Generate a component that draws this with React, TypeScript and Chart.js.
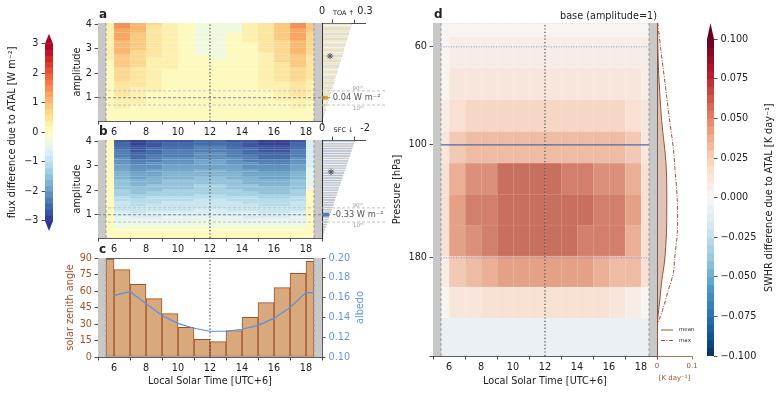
import React, { useEffect, useRef } from 'react';
import { Chart, registerables } from 'chart.js';

Chart.register(...registerables);

const FAMILY = '"DejaVu Sans", "Liberation Sans", Arial, sans-serif';
const FS = 9.7;
const INK = '#222222';
const SPINE = '#333333';
const SIENNA = '#a0522d';
const ALBEDO_LINE = '#5b8fdf';
const ALBEDO_TEXT = '#6495ed';
const GREY_BAND = '#c8c8c8';

Chart.defaults.font.family = FAMILY;
Chart.defaults.font.size = FS;
Chart.defaults.color = INK;

// ---------------- axes / grid data ----------------
const hourEdges = [5.5, 6, 7, 8, 9, 10, 11, 12, 13, 14, 15, 16, 17, 18, 18.5];
const hourTicks = [6, 8, 10, 12, 14, 16, 18];
const X_MIN = 5;
const X_MAX = 19;
const NOON = 12;

const amplitudes = [0.1, 0.2, 0.3, 0.4, 0.5, 0.6, 0.7, 0.8, 0.9, 1.0, 1.1, 1.2, 1.3, 1.4, 1.5, 1.6, 1.7, 1.8, 1.9, 2.0,
  2.1, 2.2, 2.3, 2.4, 2.5, 2.6, 2.7, 2.8, 2.9, 3.0, 3.1, 3.2, 3.3, 3.4, 3.5, 3.6, 3.7, 3.8, 3.9, 4.0];
const amplitudeTicks = [1, 2, 3, 4];
const AMP_MIN = 0.05;
const AMP_MAX = 4.05;
const baseAmplitude = 1.0;
const amplitudeP90 = 1.28;
const amplitudeP10 = 0.7;

// ---------------- panel a: TOA (upward) flux difference [W m-2], per time bin along amplitudes ----------------
const toa0530 = [.01, .02, .02, .03, .04, .05, .05, .06, .07, .08, .08, .09, .10, .11, .11, .12, .13, .14, .14, .15, .16, .17, .17, .18, .19, .20, .20, .21, .22, .23, .23, .24, .25, .26, .26, .27, .28, .29, .29, .30];
const toa0600 = [.04, .07, .11, .14, .18, .22, .25, .29, .32, .36, .40, .43, .47, .50, .54, .58, .61, .65, .68, .72, .76, .79, .83, .86, .90, .94, .97, 1.01, 1.04, 1.08, 1.12, 1.15, 1.19, 1.22, 1.26, 1.30, 1.33, 1.37, 1.40, 1.44];
const toa0700 = [.03, .05, .08, .11, .14, .16, .19, .22, .24, .27, .30, .32, .35, .38, .41, .43, .46, .49, .51, .54, .57, .59, .62, .65, .68, .70, .73, .76, .78, .81, .84, .86, .89, .92, .95, .97, 1.00, 1.03, 1.05, 1.08];
const toa0800 = [.02, .03, .05, .06, .08, .09, .11, .12, .14, .15, .17, .18, .20, .21, .23, .24, .26, .27, .29, .30, .32, .33, .35, .36, .38, .39, .41, .42, .44, .45, .47, .48, .50, .51, .53, .54, .56, .57, .59, .60];
const toa0900 = [.01, .02, .03, .04, .05, .05, .06, .07, .08, .09, .10, .11, .12, .13, .14, .14, .15, .16, .17, .18, .19, .20, .21, .22, .23, .23, .24, .25, .26, .27, .28, .29, .30, .31, .32, .32, .33, .34, .35, .36];
const toa1000 = [.00, .01, .01, .02, .02, .02, .03, .03, .04, .04, .04, .05, .05, .06, .06, .06, .07, .07, .08, .08, .08, .09, .09, .10, .10, .10, .11, .11, .12, .12, .12, .13, .13, .14, .14, .14, .15, .15, .16, .16];
const toa1100 = [.01, .01, .02, .02, .02, .02, .03, .03, .03, .03, .03, .03, .03, .03, .03, .03, .03, .03, .03, .03, .02, .02, .01, .01, .00, .00, .00, -.25, -.26, -.27, -.28, -.29, -.30, -.31, -.32, -.33, -.34, -.35, -.36, -.37];
const toa1200 = [.01, .01, .02, .02, .02, .02, .03, .03, .03, .03, .03, .03, .03, .03, .03, .03, .03, .03, .03, .03, .02, .02, .01, .01, .00, -.22, -.24, -.25, -.26, -.27, -.28, -.29, -.30, -.31, -.32, -.33, -.34, -.35, -.36, -.37];
const toa1300 = [.01, .01, .02, .02, .03, .03, .04, .04, .05, .05, .06, .06, .07, .07, .08, .08, .09, .09, .10, .10, .10, .10, .10, .10, .10, .08, .08, .07, .06, .05, .05, .04, .03, .02, .01, .01, -.21, -.22, -.23, -.24];
const toa1400 = [.01, .01, .02, .02, .03, .04, .04, .05, .05, .06, .07, .07, .08, .08, .09, .10, .10, .11, .11, .12, .13, .13, .14, .14, .15, .16, .16, .17, .17, .18, .19, .19, .20, .20, .21, .22, .22, .23, .23, .24];
const toa1500 = [.01, .03, .04, .06, .07, .08, .10, .11, .13, .14, .15, .17, .18, .20, .21, .22, .24, .25, .27, .28, .29, .31, .32, .34, .35, .36, .38, .39, .41, .42, .43, .45, .46, .48, .49, .50, .52, .53, .55, .56];
const toa1600 = [.02, .05, .07, .10, .12, .14, .17, .19, .22, .24, .26, .29, .31, .34, .36, .38, .41, .43, .46, .48, .50, .53, .55, .58, .60, .62, .65, .67, .70, .72, .74, .77, .79, .82, .84, .86, .89, .91, .94, .96];
const toa1700 = [.04, .07, .11, .14, .18, .22, .25, .29, .32, .36, .40, .43, .47, .50, .54, .58, .61, .65, .68, .72, .76, .79, .83, .86, .90, .94, .97, 1.01, 1.04, 1.08, 1.12, 1.15, 1.19, 1.22, 1.26, 1.30, 1.33, 1.37, 1.40, 1.44];
const toa1800 = [.02, .04, .07, .09, .11, .13, .15, .18, .20, .22, .24, .26, .29, .31, .33, .35, .37, .40, .42, .44, .46, .48, .51, .53, .55, .57, .59, .62, .64, .66, .68, .70, .73, .75, .77, .79, .81, .84, .86, .88];
const toaByBin = [toa0530, toa0600, toa0700, toa0800, toa0900, toa1000, toa1100, toa1200, toa1300, toa1400, toa1500, toa1600, toa1700, toa1800];

// ---------------- panel b: SFC (downward) flux difference [W m-2] ----------------
const sfcEdgeMorning = [.06, .06, .06, .06, .06, .06, .06, .06, .06, .06, .06, .06, .06, .06, .06, .06, .06, .06, .06, .06, .06, .06, .06, .06, .06, .06, .06, .06, .06, .06, .06, .06, .06, .06, .06, .06, .06, .06, .06, .06];
const sfcStrong = [0.10, 0.05, 0.00, -0.10, -0.25, -0.35, -0.45, -0.55, -0.65, -0.75, -0.82, -0.90, -0.97, -1.04, -1.10, -1.18, -1.26, -1.34, -1.42, -1.50, -1.57, -1.64, -1.71, -1.78, -1.85, -1.92, -1.99, -2.06, -2.13, -2.20, -2.27, -2.34, -2.41, -2.48, -2.55, -2.62, -2.69, -2.76, -2.83, -2.90];
const sfcHigh = [0.10, 0.05, 0.00, -0.10, -0.24, -0.33, -0.43, -0.52, -0.62, -0.71, -0.78, -0.86, -0.92, -0.99, -1.05, -1.12, -1.20, -1.27, -1.35, -1.43, -1.49, -1.56, -1.62, -1.69, -1.76, -1.82, -1.89, -1.96, -2.02, -2.09, -2.16, -2.22, -2.29, -2.36, -2.42, -2.49, -2.56, -2.62, -2.69, -2.76];
const sfcMid = [0.10, 0.05, 0.00, -0.09, -0.23, -0.32, -0.41, -0.50, -0.59, -0.68, -0.74, -0.81, -0.87, -0.94, -0.99, -1.06, -1.13, -1.21, -1.28, -1.35, -1.41, -1.48, -1.54, -1.60, -1.67, -1.73, -1.79, -1.85, -1.92, -1.98, -2.04, -2.11, -2.17, -2.23, -2.30, -2.36, -2.42, -2.48, -2.55, -2.61];
const sfcNoon = [0.10, 0.05, 0.00, -0.09, -0.21, -0.30, -0.38, -0.47, -0.55, -0.64, -0.70, -0.77, -0.82, -0.88, -0.94, -1.00, -1.07, -1.14, -1.21, -1.28, -1.33, -1.39, -1.45, -1.51, -1.57, -1.63, -1.69, -1.75, -1.81, -1.87, -1.93, -1.99, -2.05, -2.11, -2.17, -2.23, -2.29, -2.35, -2.41, -2.47];
const sfcEdgeEvening = [.05, .05, .05, .05, .05, .05, .05, .05, .05, .05, .05, .05, .05, .05, .05, .05, .05, .05, .05, .05, -.5, -.5, -.5, -.5, -.5, -.5, -.5, -.5, -.5, -.7, -.7, -.7, -.7, -.7, -.7, -.7, -.7, -.7, -.7, -.7];
const sfcByBin = [sfcEdgeMorning, sfcMid, sfcStrong, sfcHigh, sfcMid, sfcMid, sfcNoon, sfcNoon, sfcMid, sfcHigh, sfcStrong, sfcStrong, sfcMid, sfcEdgeEvening];

// side bars (mean over time) [W m-2]
const toaSide = [0.005, 0.010, 0.016, 0.021, 0.026, 0.031, 0.036, 0.042, 0.047, 0.052, 0.057, 0.062, 0.068, 0.073, 0.078, 0.083, 0.088, 0.094, 0.099, 0.104,
  0.109, 0.114, 0.120, 0.125, 0.130, 0.135, 0.140, 0.146, 0.151, 0.156, 0.161, 0.166, 0.172, 0.177, 0.182, 0.187, 0.192, 0.198, 0.203, 0.208];
const sfcSide = [-0.04, -0.08, -0.11, -0.15, -0.19, -0.23, -0.27, -0.31, -0.34, -0.38, -0.42, -0.46, -0.50, -0.54, -0.57, -0.61, -0.65, -0.69, -0.73, -0.77,
  -0.80, -0.84, -0.88, -0.92, -0.96, -1.00, -1.03, -1.07, -1.11, -1.15, -1.19, -1.23, -1.26, -1.30, -1.34, -1.38, -1.42, -1.46, -1.49, -1.53];
const toaBase = 0.04;
const sfcBase = -0.33;
const toaStar = { amp: 2.7, value: 0.056 };
const sfcStar = { amp: 2.75, value: -0.42 };
const toaAxisTicks = [0, 0.15, 0.3];
const sfcAxisTicks = [0, -1, -2];

// ---------------- panel c ----------------
const szaByBin = [89, 79.5, 66, 53, 39.5, 27, 16, 14, 24, 36, 49.5, 63, 76, 87];
const szaTicks = [0, 15, 30, 45, 60, 75, 90];
const albedoHours = [6, 7, 8, 9, 10, 11, 12, 13, 14, 15, 16, 17, 18, 18.5];
const albedoValues = [0.162, 0.166, 0.154, 0.142, 0.134, 0.129, 0.126, 0.126, 0.128, 0.132, 0.139, 0.150, 0.165, 0.165];
const albedoTicks = [0.10, 0.12, 0.14, 0.16, 0.18, 0.20];

// ---------------- panel d: SWHR difference [K day-1] ----------------
const pressureEdges = [53, 56.9, 67, 79.1, 93.3, 110, 129.3, 151.8, 178.3, 209.6, 246.3, 300];
const pressureTicks = [60, 100, 180, 300];
const P_TOP = 53;
const P_BOTTOM = 300;
const swhrRows = [
  [0.001, 0.001, 0.001, 0.001, 0.001, 0.001, 0.001, 0.001, 0.001, 0.001, 0.001, 0.001, 0.001, 0.001],
  [0.003, 0.007, 0.007, 0.007, 0.007, 0.007, 0.007, 0.007, 0.007, 0.007, 0.007, 0.007, 0.007, 0.005],
  [0.004, 0.012, 0.012, 0.012, 0.012, 0.012, 0.012, 0.012, 0.012, 0.012, 0.012, 0.012, 0.012, 0.007],
  [0.007, 0.019, 0.020, 0.020, 0.020, 0.020, 0.020, 0.020, 0.020, 0.020, 0.020, 0.020, 0.019, 0.010],
  [0.012, 0.025, 0.030, 0.032, 0.032, 0.032, 0.032, 0.032, 0.032, 0.032, 0.030, 0.030, 0.025, 0.014],
  [0.015, 0.035, 0.045, 0.047, 0.055, 0.055, 0.055, 0.055, 0.052, 0.050, 0.047, 0.045, 0.037, 0.017],
  [0.018, 0.040, 0.050, 0.053, 0.058, 0.058, 0.058, 0.058, 0.058, 0.056, 0.052, 0.052, 0.042, 0.018],
  [0.017, 0.040, 0.047, 0.050, 0.057, 0.057, 0.057, 0.057, 0.057, 0.053, 0.050, 0.050, 0.039, 0.016],
  [0.008, 0.027, 0.033, 0.036, 0.040, 0.040, 0.043, 0.043, 0.043, 0.040, 0.036, 0.033, 0.030, 0.017],
  [0.002, 0.012, 0.012, 0.015, 0.015, 0.015, 0.015, 0.015, 0.015, 0.015, 0.015, 0.012, 0.009, 0.002],
  [-0.008, -0.007, -0.007, -0.007, -0.007, -0.007, -0.007, -0.007, -0.007, -0.007, -0.007, -0.007, -0.007, -0.007],
];
const levelLines = { upper: 60, tropopause: 100, lower: 180 };

// profiles (time mean and max) [K day-1] vs pressure [hPa]
const meanPressure = [53, 66.5, 79, 91, 102, 115, 133, 158, 182, 202, 224, 248, 265, 300];
const meanSwhr = [0.001, 0.004, 0.009, 0.015, 0.022, 0.027, 0.028, 0.027, 0.022, 0.014, 0.008, 0.002, 0.0, 0.0];
const maxPressure = [53, 61, 72.5, 86.6, 102.4, 115.3, 133, 158, 181.6, 194.5, 213.4, 233.6, 248, 257, 300];
const maxSwhr = [0.002, 0.011, 0.023, 0.035, 0.047, 0.052, 0.058, 0.058, 0.050, 0.047, 0.032, 0.018, 0.007, 0.0, 0.0];
const profileTicks = [0, 0.1];

// colour scales
const FLUX_LIM = 3;
const FLUX_LEVELS = 30;
const fluxTicks = [-3, -2, -1, 0, 1, 2, 3];
const SWHR_LIM = 0.1;
const SWHR_LEVELS = 40;
const swhrTicks = [-0.1, -0.075, -0.05, -0.025, 0, 0.025, 0.05, 0.075, 0.1];

const RDYLBU_R = ['#313695', '#4575b4', '#74add1', '#abd9e9', '#e0f3f8', '#ffffbf', '#fee090', '#fdae61', '#f46d43', '#d73027', '#a50026'];
const RDBU_R = ['#053061', '#2166ac', '#4393c3', '#92c5de', '#d1e5f0', '#f7f7f7', '#fddbc7', '#f4a582', '#d6604d', '#b2182b', '#67001f'];

// ---------------- helpers ----------------
function hexRgb(h: string) {
  const n = parseInt(h.slice(1), 16);
  return [(n >> 16) & 255, (n >> 8) & 255, n & 255];
}
function cmapRgb(anchors: string[], t: number) {
  const x = Math.min(1, Math.max(0, t)) * (anchors.length - 1);
  const i = Math.min(anchors.length - 2, Math.floor(x));
  const f = x - i;
  const a = hexRgb(anchors[i]);
  const b = hexRgb(anchors[i + 1]);
  return a.map((v, k) => v + (b[k] - v) * f);
}
function css(rgb: number[], mixWhite = 0, desat = 0) {
  const lum = 0.299 * rgb[0] + 0.587 * rgb[1] + 0.114 * rgb[2];
  const c = rgb
    .map((v) => v + (lum - v) * desat)
    .map((v) => Math.round(v + (255 - v) * mixWhite));
  return `rgb(${c[0]},${c[1]},${c[2]})`;
}
function levelRgb(anchors: string[], lim: number, n: number, v: number) {
  let idx = Math.floor(((v + lim) / (2 * lim)) * n + 1e-9);
  idx = Math.max(0, Math.min(n - 1, idx));
  return cmapRgb(anchors, (idx + 0.5) / n);
}
const fluxRgb = (v: number) => levelRgb(RDYLBU_R, FLUX_LIM, FLUX_LEVELS, v);
const swhrRgb = (v: number) => levelRgb(RDBU_R, SWHR_LIM, SWHR_LEVELS, v);

function drawText(ctx: any, s: string, x: number, y: number, o: any = {}) {
  ctx.save();
  ctx.font = `${o.bold ? 'bold ' : ''}${o.size || FS}px ${FAMILY}`;
  ctx.fillStyle = o.color || INK;
  ctx.textAlign = o.align || 'left';
  ctx.textBaseline = o.baseline || 'middle';
  ctx.translate(x, y);
  if (o.rotate) ctx.rotate(o.rotate);
  ctx.fillText(s, 0, 0);
  ctx.restore();
}

const fix = (prop: string, n: number) => (s: any) => { s[prop] = n; };
const tickAt = (vals: number[]) => (s: any) => { s.ticks = vals.map((value) => ({ value })); };
const tickGrid = (color = INK) => ({ display: true, drawOnChartArea: false, drawTicks: true, tickLength: 3.5, tickColor: color, tickWidth: 0.8 });
const noGrid = { display: false };
const spine = (color = SPINE) => ({ display: true, color, width: 0.8 });
const frame = (position: string, size: number) => ({
  type: 'linear', position, offset: false, grid: noGrid, border: spine(), ticks: { display: false },
  afterFit: fix(position === 'top' || position === 'bottom' ? 'height' : 'width', size),
});
const minusLabel = (v: number, digits: number) => (v < 0 ? '\u2212' : '') + Math.abs(v).toFixed(digits);
const TRANSPARENT = 'rgba(0,0,0,0)';

const commonOptions = {
  responsive: false,
  maintainAspectRatio: false,
  animation: false,
  devicePixelRatio: 1,
  events: [],
  plugins: { legend: { display: false }, tooltip: { enabled: false } },
};

function heatDatasets(byBin: number[][], rowLo: number[], rowHi: number[], rgbFn: (v: number) => number[], edge: any) {
  return hourEdges.slice(0, -1).map((lo, c) => {
    const hi = hourEdges[c + 1];
    const rgb = byBin[c].map(rgbFn);
    return {
      type: 'bar', binWidth: hi - lo, grouped: false, order: 3,
      data: byBin[c].map((v, r) => ({ x: (lo + hi) / 2, y: [rowLo[r], rowHi[r]] })),
      backgroundColor: rgb.map((k) => css(k, 0, edge.desat)),
      borderColor: rgb.map((k) => css(k, edge.mix, edge.desat)),
      borderWidth: edge.width, borderSkipped: false,
      barPercentage: 1, categoryPercentage: 1,
    };
  });
}

function overlayDatasets(yBottom: number, yTop: number) {
  const band = (x0: number, x1: number) => ({
    type: 'line', order: 2, data: [{ x: x0, y: yTop }, { x: x1, y: yTop }], fill: 'start',
    backgroundColor: GREY_BAND, borderColor: TRANSPARENT, borderWidth: 0, pointRadius: 0,
  });
  const vline = (x: number, color: string, dash: number[], w: number) => ({
    type: 'line', order: 1, data: [{ x, y: yBottom }, { x, y: yTop }], borderColor: color,
    borderDash: dash, borderWidth: w, pointRadius: 0, fill: false,
  });
  const first = hourEdges[0];
  const last = hourEdges[hourEdges.length - 1];
  return [
    band(X_MIN, first), band(last, X_MAX),
    vline(first, '#9a9a9a', [3, 2], 1), vline(last, '#9a9a9a', [3, 2], 1),
    vline(NOON, '#444444', [1.2, 2.2], 1.2),
  ];
}

const hline = (y: number, x0: number, x1: number, color: string, dash: number[], w: number, clip = true) => ({
  type: 'line', order: 1, data: [{ x: x0, y }, { x: x1, y }], borderColor: color, borderDash: dash,
  borderWidth: w, pointRadius: 0, fill: false, ...(clip ? {} : { clip: false }),
});

const textPlugin = (draw: (chart: any, ctx: any) => void) => ({ id: 'texts', afterDraw(chart: any) { draw(chart, chart.ctx); } });
const letter = (chart: any, ctx: any, s: string) =>
  drawText(ctx, s, chart.chartArea.left + 1, chart.chartArea.top - 2, { size: 12, bold: true, baseline: 'bottom' });

function applyBinWidths(chart: any) {
  let changed = false;
  chart.data.datasets.forEach((ds: any, i: number) => {
    if (!ds.binWidth) return;
    const scale = chart.getDatasetMeta(i).iScale;
    const ref = (scale.min + scale.max) / 2;
    ds.barThickness = Math.abs(scale.getPixelForValue(ref + ds.binWidth) - scale.getPixelForValue(ref));
    changed = true;
  });
  if (changed) chart.update();
}

// ---------------- chart configs ----------------
function fluxColorbar() {
  const ext = 0.34;
  const segs: any[] = [];
  for (let i = 0; i < FLUX_LEVELS; i++) {
    const lo = -FLUX_LIM + (2 * FLUX_LIM * i) / FLUX_LEVELS;
    const hi = -FLUX_LIM + (2 * FLUX_LIM * (i + 1)) / FLUX_LEVELS;
    segs.push({ lo, hi, color: css(fluxRgb((lo + hi) / 2)) });
  }
  return {
    type: 'bar',
    data: {
      datasets: [
        { type: 'bar', binWidth: 1, grouped: false, order: 2, data: segs.map((s) => ({ x: 0.5, y: [s.lo, s.hi] })),
          backgroundColor: segs.map((s) => s.color), borderWidth: 0, barPercentage: 1, categoryPercentage: 1 },
        { type: 'line', order: 1, data: [{ x: 0, y: FLUX_LIM }, { x: 0.5, y: FLUX_LIM + ext }, { x: 1, y: FLUX_LIM }],
          fill: { value: FLUX_LIM }, backgroundColor: RDYLBU_R[10], borderColor: TRANSPARENT, borderWidth: 0, pointRadius: 0 },
        { type: 'line', order: 1, data: [{ x: 0, y: -FLUX_LIM }, { x: 0.5, y: -FLUX_LIM - ext }, { x: 1, y: -FLUX_LIM }],
          fill: { value: -FLUX_LIM }, backgroundColor: RDYLBU_R[0], borderColor: TRANSPARENT, borderWidth: 0, pointRadius: 0 },
      ],
    },
    options: {
      ...commonOptions,
      layout: { autoPadding: false, padding: { left: 0, right: 7, top: 8, bottom: 9 } },
      scales: {
        x: { type: 'linear', min: 0, max: 1, display: false, offset: false },
        y: {
          type: 'linear', position: 'left', min: -FLUX_LIM - ext, max: FLUX_LIM + ext,
          grid: tickGrid(), border: { display: false },
          ticks: { padding: 3, callback: (v: number) => minusLabel(v, 0) },
          afterBuildTicks: tickAt(fluxTicks),
          title: { display: true, text: 'flux difference due to ATAL [W m\u207B\u00B2]', font: { size: FS }, padding: { top: 6.7, bottom: 0 } },
          afterFit: fix('width', 45),
        },
      },
    },
  };
}

function heatPanel(letterText: string, byBin: number[][]) {
  const half = (amplitudes[1] - amplitudes[0]) / 2;
  const lo = amplitudes.map((a) => a - half);
  const hi = amplitudes.map((a) => a + half);
  return {
    type: 'bar',
    data: {
      datasets: [
        ...heatDatasets(byBin, lo, hi, fluxRgb, { mix: 0.22, desat: 0.08, width: { left: 0.6, top: 0.45, right: 0, bottom: 0 } }),
        ...overlayDatasets(AMP_MIN, AMP_MAX),
        hline(amplitudeP90, X_MIN, X_MAX, '#bdbdbd', [3, 2], 0.9),
        hline(amplitudeP10, X_MIN, X_MAX, '#bdbdbd', [3, 2], 0.9),
        hline(baseAmplitude, X_MIN, X_MAX, '#7a7a7a', [3, 2], 0.9),
      ],
    },
    options: {
      ...commonOptions,
      layout: { autoPadding: false, padding: 0 },
      scales: {
        x: { type: 'linear', min: X_MIN, max: X_MAX, offset: false, grid: tickGrid(), border: spine(),
          ticks: { padding: 2.5, maxRotation: 0, autoSkip: false }, afterBuildTicks: tickAt(hourTicks), afterFit: fix('height', 27) },
        xt: { ...frame('top', 18), min: X_MIN, max: X_MAX },
        y: { type: 'linear', min: AMP_MIN, max: AMP_MAX, offset: false, grid: tickGrid(), border: spine(),
          ticks: { padding: 2.5 }, afterBuildTicks: tickAt(amplitudeTicks),
          title: { display: true, text: 'amplitude', font: { size: FS }, padding: { top: 1.2, bottom: 0 } },
          afterFit: fix('width', 28) },
        yr: { ...frame('right', 10), min: AMP_MIN, max: AMP_MAX },
      },
    },
    plugins: [textPlugin((chart, ctx) => letter(chart, ctx, letterText))],
  };
}

function sidePanel(values: number[], base: number, star: any, axisTicks: number[], midLabel: string, reversed: boolean,
  fill: string, highlight: string, unitText: string) {
  const xmin = reversed ? axisTicks[2] : axisTicks[0];
  const xmax = reversed ? axisTicks[0] : axisTicks[2];
  const span = axisTicks[2] - axisTicks[0];
  return {
    type: 'bar',
    data: {
      datasets: [
        { type: 'bar', indexAxis: 'y', grouped: false, order: 3, data: amplitudes.map((a, i) => ({ y: a, x: values[i] })),
          backgroundColor: fill, borderColor: 'rgba(115,115,115,0.6)', borderWidth: 0.5, borderSkipped: false,
          barPercentage: 0.8, categoryPercentage: 1 },
        { type: 'bar', indexAxis: 'y', grouped: false, order: 2, data: [{ y: baseAmplitude, x: base }],
          backgroundColor: highlight, borderWidth: 0, barPercentage: 1.5, categoryPercentage: 1 },
        hline(amplitudeP90, 0, axisTicks[0] + span * 1.47, '#bdbdbd', [3, 2], 0.9, false),
        hline(amplitudeP10, 0, axisTicks[0] + span * 1.47, '#bdbdbd', [3, 2], 0.9, false),
        hline(baseAmplitude, 0, axisTicks[0] + span * 0.24, '#7a7a7a', [3, 2], 0.9, false),
        { type: 'line', order: 0, showLine: false, data: [{ x: star.value, y: star.amp }], pointStyle: 'star',
          pointRadius: 3.2, pointBorderColor: '#555555', pointBackgroundColor: '#555555', pointBorderWidth: 1 },
      ],
    },
    options: {
      ...commonOptions,
      layout: { autoPadding: false, padding: { left: 10, right: 27, top: 0, bottom: 4 } },
      scales: {
        x: { type: 'linear', position: 'top', min: xmin, max: xmax, reverse: reversed, offset: false,
          grid: tickGrid(), border: spine('#222'),
          ticks: { padding: 2, maxRotation: 0, autoSkip: false,
            font: (c: any) => ({ size: c.tick && c.tick.value === axisTicks[1] ? 6.5 : FS, family: FAMILY }),
            callback: (v: number) => (v === axisTicks[1] ? midLabel : String(v)) },
          afterBuildTicks: tickAt(axisTicks), afterFit: fix('height', 23) },
        y: { type: 'linear', min: AMP_MIN, max: AMP_MAX, offset: false, grid: noGrid, ticks: { display: false },
          border: spine('#222'), afterFit: fix('width', 0) },
      },
    },
    plugins: [textPlugin((chart, ctx) => {
      const x = chart.scales.x;
      const y = chart.scales.y;
      const at = (f: number) => axisTicks[0] + span * f;
      drawText(ctx, '90\u1D57\u02B0', x.getPixelForValue(at(0.71)), y.getPixelForValue(amplitudeP90 + 0.11), { size: 5.5, color: '#9a9a9a' });
      drawText(ctx, '10\u1D57\u02B0', x.getPixelForValue(at(0.72)), y.getPixelForValue(amplitudeP10 - 0.13), { size: 5.5, color: '#9a9a9a' });
      drawText(ctx, `${base.toFixed(2)} ${unitText}`, x.getPixelForValue(at(0.25)), y.getPixelForValue(baseAmplitude), { size: 8.3, color: '#555555' });
    })],
  };
}

function zenithPanel() {
  const bars = hourEdges.slice(0, -1).map((lo, c) => {
    const hi = hourEdges[c + 1];
    return {
      type: 'bar', binWidth: hi - lo, grouped: false, order: 3, yAxisID: 'y',
      data: [{ x: (lo + hi) / 2, y: szaByBin[c] }],
      backgroundColor: '#d8a97c', borderColor: SIENNA, borderWidth: 1, borderSkipped: false,
      barPercentage: 1, categoryPercentage: 1,
    };
  });
  return {
    type: 'bar',
    data: {
      datasets: [
        ...bars,
        ...overlayDatasets(szaTicks[0], szaTicks[szaTicks.length - 1]),
        { type: 'line', order: 0, yAxisID: 'y1', data: albedoHours.map((h, i) => ({ x: h, y: albedoValues[i] })),
          borderColor: ALBEDO_LINE, borderWidth: 1.2, pointRadius: 0, fill: false, tension: 0 },
      ],
    },
    options: {
      ...commonOptions,
      layout: { autoPadding: false, padding: 0 },
      scales: {
        x: { type: 'linear', min: X_MIN, max: X_MAX, offset: false, grid: tickGrid(), border: spine(),
          ticks: { padding: 2.5, maxRotation: 0, autoSkip: false }, afterBuildTicks: tickAt(hourTicks),
          title: { display: true, text: 'Local Solar Time [UTC+6]', font: { size: FS }, padding: { top: 0, bottom: 7.2 } },
          afterFit: fix('height', 37) },
        xt: { ...frame('top', 13), min: X_MIN, max: X_MAX },
        y: { type: 'linear', position: 'left', min: szaTicks[0], max: szaTicks[szaTicks.length - 1], offset: false,
          grid: tickGrid(), border: spine(), ticks: { padding: 2.5, color: SIENNA }, afterBuildTicks: tickAt(szaTicks),
          title: { display: true, text: 'solar zenith angle', color: SIENNA, font: { size: FS }, padding: { top: 25, bottom: 0 } },
          afterFit: fix('width', 58) },
        y1: { type: 'linear', position: 'right', min: albedoTicks[0], max: albedoTicks[albedoTicks.length - 1], offset: false,
          grid: tickGrid(), border: spine(), ticks: { padding: 3, color: ALBEDO_TEXT, callback: (v: number) => v.toFixed(2) },
          afterBuildTicks: tickAt(albedoTicks), afterFit: fix('width', 58) },
      },
    },
    plugins: [textPlugin((chart, ctx) => {
      letter(chart, ctx, 'c');
      const a = chart.chartArea;
      drawText(ctx, 'albedo', 320, (a.top + a.bottom) / 2, { color: ALBEDO_TEXT, align: 'center', rotate: -Math.PI / 2 });
    })],
  };
}

function swhrPanel() {
  const byBin = hourEdges.slice(0, -1).map((_, c) => swhrRows.map((row) => row[c]));
  return {
    type: 'bar',
    data: {
      datasets: [
        ...heatDatasets(byBin, pressureEdges.slice(0, -1), pressureEdges.slice(1), swhrRgb, { mix: 0.3, desat: 0.2, width: { left: 0.9, top: 0.5, right: 0, bottom: 0 } }),
        ...overlayDatasets(P_BOTTOM, P_TOP),
        hline(levelLines.upper, hourEdges[0], hourEdges[hourEdges.length - 1], '#7f9bd8', [1, 1.5], 1),
        hline(levelLines.tropopause, hourEdges[0], hourEdges[hourEdges.length - 1], '#5266a8', [], 1.2),
        hline(levelLines.lower, hourEdges[0], hourEdges[hourEdges.length - 1], '#7f9bd8', [1, 1.5], 1),
      ],
    },
    options: {
      ...commonOptions,
      layout: { autoPadding: false, padding: 0 },
      scales: {
        x: { type: 'linear', min: X_MIN, max: X_MAX, offset: false, grid: tickGrid(), border: spine(),
          ticks: { padding: 2.5, maxRotation: 0, autoSkip: false }, afterBuildTicks: tickAt(hourTicks),
          title: { display: true, text: 'Local Solar Time [UTC+6]', font: { size: FS }, padding: { top: 0, bottom: 7.2 } },
          afterFit: fix('height', 38) },
        xt: { ...frame('top', 18), min: X_MIN, max: X_MAX },
        y: { type: 'logarithmic', min: P_TOP, max: P_BOTTOM, reverse: true, offset: false, grid: tickGrid(), border: spine(),
          ticks: { padding: 2.5, autoSkip: false, callback: (v: number) => (v === P_BOTTOM ? '' : String(v)) },
          afterBuildTicks: tickAt(pressureTicks),
          title: { display: true, text: 'Pressure [hPa]', font: { size: FS }, padding: { top: 11.9, bottom: 0 } },
          afterFit: fix('width', 53) },
        yr: { ...frame('right', 13), min: 0, max: 1 },
      },
    },
    plugins: [textPlugin((chart, ctx) => {
      letter(chart, ctx, 'd');
      drawText(ctx, `base (amplitude=${baseAmplitude})`, chart.chartArea.right, chart.chartArea.top - 1.5, { align: 'right', baseline: 'bottom' });
    })],
  };
}

function profilePanel() {
  return {
    type: 'line',
    data: {
      datasets: [
        { data: meanPressure.map((p, i) => ({ x: meanSwhr[i], y: p })), borderColor: SIENNA, borderWidth: 1,
          fill: 'origin', backgroundColor: 'rgba(160,82,45,0.35)', pointRadius: 0, tension: 0.3 },
        { data: maxPressure.map((p, i) => ({ x: maxSwhr[i], y: p })), borderColor: SIENNA, borderWidth: 1,
          borderDash: [4, 1.5, 1, 1.5], fill: false, pointRadius: 0, tension: 0.3 },
      ],
    },
    options: {
      ...commonOptions,
      indexAxis: 'y',
      layout: { autoPadding: false, padding: { left: 10, right: 15, top: 18, bottom: 0 } },
      scales: {
        x: { type: 'linear', position: 'bottom', min: profileTicks[0], max: profileTicks[1], offset: false,
          grid: tickGrid(SIENNA), border: spine(SIENNA),
          ticks: { padding: 2, color: SIENNA, font: { size: 7 }, maxRotation: 0, autoSkip: false, callback: (v: number) => String(v) },
          afterBuildTicks: tickAt(profileTicks),
          title: { display: true, text: '[K day\u207B\u00B9]', color: SIENNA, font: { size: 7 }, padding: { top: 0, bottom: 11.8 } },
          afterFit: fix('height', 38) },
        y: { type: 'logarithmic', min: P_TOP, max: P_BOTTOM, reverse: true, offset: false, grid: noGrid,
          ticks: { display: false }, border: { display: false }, afterFit: fix('width', 0) },
      },
    },
    plugins: [textPlugin((chart, ctx) => {
      const a = chart.chartArea;
      const rows = [{ y: a.bottom - 26, dash: [], label: 'mean' }, { y: a.bottom - 15.5, dash: [4, 1.5, 1, 1.5], label: 'max' }];
      rows.forEach((r) => {
        ctx.save();
        ctx.strokeStyle = SIENNA;
        ctx.lineWidth = 1;
        ctx.setLineDash(r.dash);
        ctx.beginPath();
        ctx.moveTo(a.left + 4, r.y);
        ctx.lineTo(a.left + 16, r.y);
        ctx.stroke();
        ctx.restore();
        drawText(ctx, r.label, a.left + 22, r.y, { size: 5.5, color: '#333333' });
      });
    })],
  };
}

function swhrColorbar() {
  const ext = 0.0103;
  const segs: any[] = [];
  for (let i = 0; i < SWHR_LEVELS; i++) {
    const lo = -SWHR_LIM + (2 * SWHR_LIM * i) / SWHR_LEVELS;
    const hi = -SWHR_LIM + (2 * SWHR_LIM * (i + 1)) / SWHR_LEVELS;
    segs.push({ lo, hi, color: css(swhrRgb((lo + hi) / 2)) });
  }
  return {
    type: 'bar',
    data: {
      datasets: [
        { type: 'bar', binWidth: 1, grouped: false, order: 2, data: segs.map((s) => ({ x: 0.5, y: [s.lo, s.hi] })),
          backgroundColor: segs.map((s) => s.color), borderWidth: 0, barPercentage: 1, categoryPercentage: 1 },
        { type: 'line', order: 1, data: [{ x: 0, y: SWHR_LIM }, { x: 0.5, y: SWHR_LIM + ext }, { x: 1, y: SWHR_LIM }],
          fill: { value: SWHR_LIM }, backgroundColor: RDBU_R[10], borderColor: TRANSPARENT, borderWidth: 0, pointRadius: 0 },
      ],
    },
    options: {
      ...commonOptions,
      layout: { autoPadding: false, padding: { left: 7, right: 0, top: 13, bottom: 14 } },
      scales: {
        x: { type: 'linear', min: 0, max: 1, display: false, offset: false },
        y: { type: 'linear', position: 'right', min: -SWHR_LIM, max: SWHR_LIM + ext, grid: tickGrid(), border: { display: false },
          ticks: { padding: 3, autoSkip: false, callback: (v: number) => minusLabel(v, 3) },
          afterBuildTicks: tickAt(swhrTicks), afterFit: fix('width', 67) },
      },
    },
    plugins: [textPlugin((chart, ctx) => {
      const y = chart.scales.y;
      const cy = (y.getPixelForValue(SWHR_LIM) + y.getPixelForValue(-SWHR_LIM)) / 2;
      drawText(ctx, 'SWHR difference due to ATAL [K day\u207B\u00B9]', 69, cy, { align: 'center', rotate: -Math.PI / 2 });
    })],
  };
}

// ---------------- components ----------------
type Box = { left: number; top: number; width: number; height: number; make: () => any };

function ChartBox({ box }: { box: Box }) {
  const ref = useRef<HTMLCanvasElement | null>(null);
  useEffect(() => {
    const chart = new Chart(ref.current as HTMLCanvasElement, box.make() as any);
    applyBinWidths(chart);
    return () => chart.destroy();
  }, []);
  return (
    <canvas ref={ref} width={box.width} height={box.height}
      style={{ position: 'absolute', left: box.left, top: box.top, width: box.width, height: box.height }} />
  );
}

const boxes: Box[] = [
  { left: 0, top: 25, width: 60, height: 215, make: fluxColorbar },
  { left: 70, top: 5, width: 262, height: 143, make: () => heatPanel('a', toaByBin) },
  { left: 312, top: 0, width: 80, height: 125,
    make: () => sidePanel(toaSide, toaBase, toaStar, toaAxisTicks, 'TOA \u2191', false, '#f3e8b3', '#d9a521', 'W m\u207B\u00B2') },
  { left: 70, top: 122, width: 262, height: 143, make: () => heatPanel('b', sfcByBin) },
  { left: 312, top: 117, width: 80, height: 125,
    make: () => sidePanel(sfcSide, sfcBase, sfcStar, sfcAxisTicks, 'SFC \u2193', true, '#b3c0d3', '#4a7cc9', 'W m\u207B\u00B2') },
  { left: 40, top: 245, width: 340, height: 149, make: zenithPanel },
  { left: 380, top: 5, width: 290, height: 389, make: swhrPanel },
  { left: 647, top: 5, width: 60, height: 389, make: profilePanel },
  { left: 700, top: 10, width: 81, height: 360, make: swhrColorbar },
];

export default function App() {
  return (
    <div style={{ position: 'absolute', left: 0, top: 0, width: 781, height: 394, background: '#ffffff' }}>
      {boxes.map((b, i) => <ChartBox key={i} box={b} />)}
    </div>
  );
}
